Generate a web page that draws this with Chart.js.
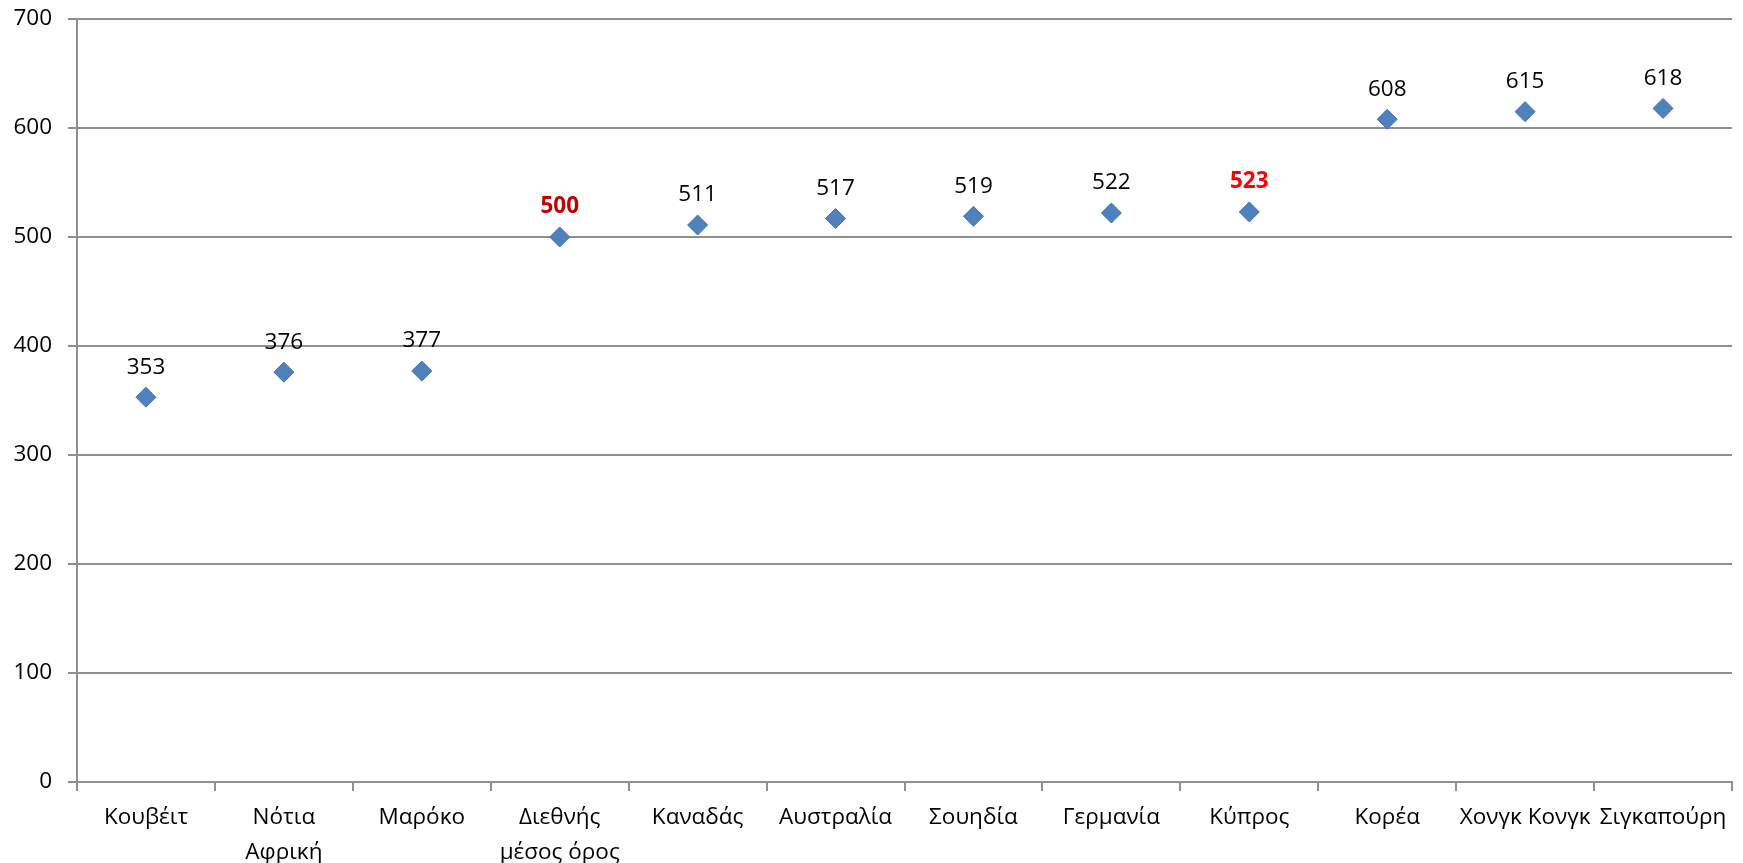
<!DOCTYPE html>
<html>
<head>
<meta charset="utf-8">
<script src="https://cdn.jsdelivr.net/npm/chart.js@4"></script>
<style>
html,body{margin:0;padding:0;background:#fff;}
#wrap{width:1743px;height:863px;position:relative;}
</style>
</head>
<body>
<div id="wrap"><canvas id="c" width="1743" height="863"></canvas></div>
<script>
const categories = ["Κουβέιτ", ["Νότια", "Αφρική"], "Μαρόκο", ["Διεθνής", "μέσος όρος"], "Καναδάς", "Αυστραλία", "Σουηδία", "Γερμανία", "Κύπρος", "Κορέα", "Χονγκ Κονγκ", "Σιγκαπούρη"];
const scores = [353, 376, 377, 500, 511, 517, 519, 522, 523, 608, 615, 618];
const yTicks = [0, 100, 200, 300, 400, 500, 600, 700];
const labelColors = ["#000", "#000", "#000", "#C00000", "#000", "#000", "#000", "#000", "#FF0000", "#000", "#000", "#000"];
const labelBold = [false, false, false, true, false, false, false, false, true, false, false, false];

const FONT = "'Open Sans', 'Noto Sans', sans-serif";
const FS = 22.5;

const labelPlugin = {
  id: 'pointLabels',
  afterDatasetsDraw(chart) {
    const ctx = chart.ctx;
    const meta = chart.getDatasetMeta(0);
    ctx.save();
    ctx.textAlign = 'center';
    ctx.textBaseline = 'middle';
    meta.data.forEach((pt, i) => {
      ctx.font = (labelBold[i] ? 'bold ' : '') + FS + 'px ' + FONT;
      ctx.fillStyle = labelColors[i];
      ctx.fillText(String(scores[i]), pt.x, pt.y - 30);
    });
    ctx.restore();
  }
};

new Chart(document.getElementById('c'), {
  type: 'line',
  data: {
    labels: categories,
    datasets: [{
      data: scores,
      showLine: false,
      pointStyle: 'rectRot',
      pointRadius: 10,
      pointHoverRadius: 10,
      pointBackgroundColor: '#4F81BD',
      pointBorderColor: '#4373AE',
      pointBorderWidth: 1
    }]
  },
  options: {
    responsive: false,
    animation: false,
    events: [],
    layout: { padding: { top: 19, right: 9, left: 0, bottom: 0 } },
    plugins: { legend: { display: false }, tooltip: { enabled: false } },
    scales: {
      x: {
        type: 'category',
        offset: true,
        grid: { offset: true, drawOnChartArea: false, drawTicks: true, tickLength: 9, color: '#909090', lineWidth: 2 },
        border: { display: true, color: '#909090', width: 2 },
        ticks: { color: '#000', font: { family: FONT, size: FS, lineHeight: 1.55 }, padding: 9, maxRotation: 0, autoSkip: false },
        afterFit(s) { s.height = 81; s.paddingLeft = 0; s.paddingRight = 0; }
      },
      y: {
        min: 0, max: 700,
        afterBuildTicks(s) { s.ticks = yTicks.map(v => ({ value: v })); },
        grid: { color: '#909090', lineWidth: 2, drawTicks: true, tickLength: 9 },
        border: { display: true, color: '#909090', width: 2 },
        ticks: { color: '#000', font: { family: FONT, size: FS }, padding: 16 },
        afterFit(s) { s.width = 77; s.paddingTop = 0; s.paddingBottom = 0; }
      }
    }
  },
  plugins: [labelPlugin]
});
</script>
</body>
</html>
